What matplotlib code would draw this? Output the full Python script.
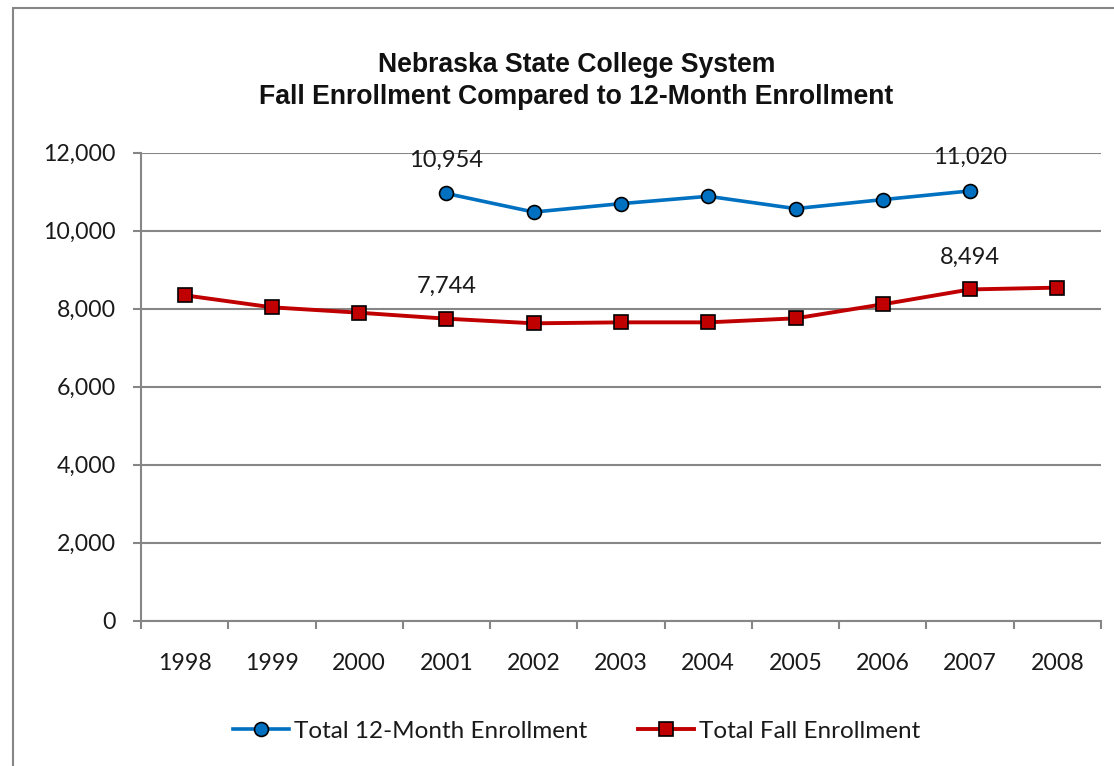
import matplotlib
matplotlib.use("Agg")
import matplotlib.pyplot as plt
from matplotlib.patches import Rectangle
from matplotlib.ticker import FuncFormatter, FixedLocator

years = ["1998", "1999", "2000", "2001", "2002", "2003", "2004", "2005", "2006", "2007", "2008"]
twelve_month = [None, None, None, 10954, 10478, 10694, 10882, 10566, 10797, 11020, None]
fall = [8344, 8036, 7897, 7744, 7625, 7650, 7650, 7753, 8113, 8494, 8540]
twelve_labels = {"2001": "10,954", "2007": "11,020"}
fall_labels = {"2001": "7,744", "2007": "8,494"}

title = "Nebraska State College System\nFall Enrollment Compared to 12-Month Enrollment"
series_names = ["Total 12-Month Enrollment", "Total Fall Enrollment"]

W, H = 1114, 766
fig = plt.figure(figsize=(W / 100, H / 100), dpi=100)
fig.patch.set_facecolor("white")

# outer chart frame (cut off at right and bottom)
fig.add_artist(Rectangle((13 / W, -0.05), 1.2, (1 - 7.5 / H) + 0.05, transform=fig.transFigure,
                         fill=False, edgecolor="#868686", linewidth=1.5, clip_on=False))

ax = fig.add_axes([141 / W, 1 - 620.7 / H, (1101 - 141) / W, (620.7 - 152.7) / H])
x = list(range(len(years)))

gray = "#868686"
blue = "#0070C0"
red = "#C00000"

tx = [i for i, v in zip(x, twelve_month) if v is not None]
ty = [v for v in twelve_month if v is not None]
ax.plot(tx, ty, color=blue, linewidth=2.6, marker="o", markersize=10,
        markerfacecolor=blue, markeredgecolor="black", markeredgewidth=1.2,
        label=series_names[0], zorder=3)
ax.plot(x, fall, color=red, linewidth=2.8, marker="s", markersize=10.5,
        markerfacecolor=red, markeredgecolor="black", markeredgewidth=1.2,
        label=series_names[1], zorder=3)

font = "Lato"
for yr, lab in twelve_labels.items():
    i = years.index(yr)
    ax.annotate(lab, (i, twelve_month[i]), xytext=(0, 24), textcoords="offset points",
                ha="center", va="center", fontsize=17, family=font, color="#1a1a1a")
for yr, lab in fall_labels.items():
    i = years.index(yr)
    ax.annotate(lab, (i, fall[i]), xytext=(0, 23), textcoords="offset points",
                ha="center", va="center", fontsize=17, family=font, color="#1a1a1a")

ax.set_xlim(-0.5, len(years) - 0.5)
ax.set_ylim(0, 12000)
ax.set_yticks(range(0, 12001, 2000))
ax.yaxis.set_major_formatter(FuncFormatter(lambda v, p: f"{int(v):,}"))
ax.set_xticks(x)
ax.set_xticklabels(years)
ax.xaxis.set_minor_locator(FixedLocator([i - 0.5 for i in range(len(years) + 1)]))

ax.grid(axis="y", color=gray, linewidth=1.5)
ax.set_axisbelow(True)
for s in ["top", "right"]:
    ax.spines[s].set_visible(False)
for s in ["left", "bottom"]:
    ax.spines[s].set_color(gray)
    ax.spines[s].set_linewidth(1.5)

ax.tick_params(axis="y", which="major", length=6, width=1.5, color=gray, pad=12,
               labelsize=16.7, labelcolor="#1a1a1a")
ax.tick_params(axis="x", which="major", length=0, pad=23.5, labelsize=16.7, labelcolor="#1a1a1a")
ax.tick_params(axis="x", which="minor", length=6, width=1.5, color=gray, direction="out")
for lab in ax.get_xticklabels() + ax.get_yticklabels():
    lab.set_family(font)

fig.text(0.5175, 1 - 81 / H, title, ha="center", va="center", fontsize=19.2,
         fontweight="bold", family="Liberation Sans", linespacing=1.32, color="#111111")

leg = fig.legend(loc="center", bbox_to_anchor=(0.5175, 1 - 731 / H), ncol=2, frameon=False,
                 handlelength=2.3, handletextpad=0.2, columnspacing=2.1,
                 prop={"family": font, "size": 17.5})
for t in leg.get_texts():
    t.set_color("#1a1a1a")

fig.savefig("out.png", dpi=100, facecolor="white")
